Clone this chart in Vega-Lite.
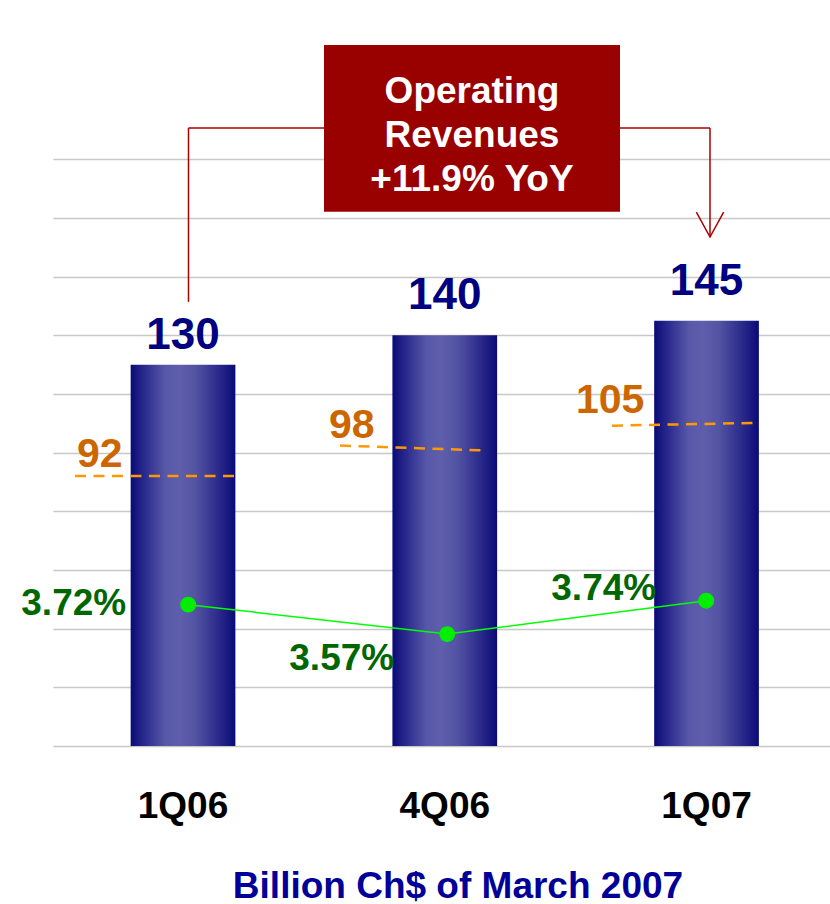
{
  "$schema": "https://vega.github.io/schema/vega-lite/v6.json",
  "width": 777,
  "height": 746,
  "autosize": {"type": "none"},
  "padding": {"left": 53, "top": 0, "right": 0, "bottom": 158},
  "background": "white",
  "config": {"view": {"stroke": null}, "font": "Liberation Sans, Arial, sans-serif"},
  "datasets": {
    "quarters": [
      {"quarter": "1Q06", "revenue": 130, "margin": 3.72, "margin_text": "3.72%"},
      {"quarter": "4Q06", "revenue": 140, "margin": 3.57, "margin_text": "3.57%"},
      {"quarter": "1Q07", "revenue": 145, "margin": 3.74, "margin_text": "3.74%"}
    ],
    "dashes": [
      {"quarter": "1Q06", "label": "92", "slot_from": -0.4126, "slot_to": 0.1987, "level_from": 92.0, "level_to": 92.0},
      {"quarter": "4Q06", "label": "98", "slot_from": 0.5998, "slot_to": 1.1384, "level_from": 102.4, "level_to": 100.8},
      {"quarter": "1Q07", "label": "105", "slot_from": 1.6389, "slot_to": 2.1776, "level_from": 109.2, "level_to": 110.1}
    ],
    "connectors": [
      {"slot_from": 0.021, "slot_to": 0.021, "level_from": 210.7, "level_to": 151.4},
      {"slot_from": 0.021, "slot_to": 0.5387, "level_from": 210.7, "level_to": 210.7},
      {"slot_from": 1.6695, "slot_to": 2.0133, "level_from": 210.7, "level_to": 210.7},
      {"slot_from": 2.0133, "slot_to": 2.0133, "level_from": 210.7, "level_to": 173.5}
    ],
    "callout": [
      {"text": "Operating\nRevenues\n+11.9% YoY", "slot_from": 0.5387, "slot_to": 1.6695, "level_from": 182.1, "level_to": 239.0, "slot_text": 1.104, "level_text": 222.9}
    ],
    "arrow": [{"slot": 2.0133, "level": 173.5}]
  },
  "resolve": {"scale": {"x": "independent", "y": "independent"}},
  "layer": [
    {
      "data": {"name": "quarters"},
      "encoding": {
        "x": {
          "field": "quarter", "type": "nominal", "sort": ["1Q06", "4Q06", "1Q07"],
          "scale": {"paddingInner": 0.6, "paddingOuter": 0.2842, "align": 0.522},
          "axis": {
            "title": "Billion Ch$ of March 2007",
            "labelFontSize": 37, "labelFontWeight": "bold", "labelColor": "#000000",
            "labelFont": "Liberation Sans",
            "labelPadding": 71, "labelBaseline": "alphabetic", "labelAngle": 0,
            "ticks": false, "tickSize": 0, "domain": false,
            "titleFont": "Liberation Sans", "titleFontSize": 37, "titleFontWeight": "bold", "titleColor": "#000099",
            "titleX": 404.5, "titleY": 151, "titleBaseline": "alphabetic", "titleAlign": "center"
          }
        },
        "y": {
          "field": "revenue", "type": "quantitative",
          "scale": {"domain": [0, 254.3], "nice": false},
          "axis": {
            "values": [0, 20, 40, 60, 80, 100, 120, 140, 160, 180, 200],
            "labels": false, "ticks": false, "domain": false, "title": null,
            "grid": true, "gridColor": "#c8c8c8", "gridWidth": 1.5
          }
        }
      },
      "layer": [
        {
          "mark": {
            "type": "bar",
            "fill": {
              "gradient": "linear", "x1": 0, "y1": 0, "x2": 1, "y2": 0,
              "stops": [
                {"offset": 0, "color": "#0a0a78"},
                {"offset": 0.15, "color": "#2e2e90"},
                {"offset": 0.33, "color": "#5858a8"},
                {"offset": 0.47, "color": "#5e5eac"},
                {"offset": 0.62, "color": "#5353a3"},
                {"offset": 0.85, "color": "#28288a"},
                {"offset": 1, "color": "#0a0a78"}
              ]
            }
          }
        },
        {
          "transform": [{"filter": "datum.quarter === '1Q06'"}],
          "mark": {"type": "text", "baseline": "alphabetic", "dy": -16, "fontSize": 44, "fontWeight": "bold", "color": "#000080"},
          "encoding": {"text": {"field": "revenue"}}
        },
        {
          "transform": [{"filter": "datum.quarter !== '1Q06'"}],
          "mark": {"type": "text", "baseline": "alphabetic", "dy": -26, "fontSize": 44, "fontWeight": "bold", "color": "#000080"},
          "encoding": {"text": {"field": "revenue"}}
        }
      ]
    },
    {
      "data": {"name": "quarters"},
      "encoding": {
        "x": {
          "field": "quarter", "type": "nominal", "sort": ["1Q06", "4Q06", "1Q07"],
          "scale": {"paddingInner": 0.6, "paddingOuter": 0.2842, "align": 0.522},
          "axis": null
        },
        "y": {
          "field": "margin", "type": "quantitative",
          "scale": {"domain": [3, 6.8], "nice": false, "zero": false},
          "axis": null
        }
      },
      "layer": [
        {"mark": {"type": "line", "color": "#00ff00", "strokeWidth": 1.5}},
        {"mark": {"type": "point", "filled": true, "size": 254, "color": "#00ee00", "opacity": 1}},
        {
          "transform": [{"filter": "datum.quarter === '1Q06'"}],
          "mark": {"type": "text", "align": "right", "baseline": "alphabetic", "dx": -62, "dy": 10, "fontSize": 37, "fontWeight": "bold", "color": "#006600"},
          "encoding": {"text": {"field": "margin_text"}}
        },
        {
          "transform": [{"filter": "datum.quarter === '4Q06'"}],
          "mark": {"type": "text", "align": "right", "baseline": "alphabetic", "dx": -53, "dy": 36, "fontSize": 37, "fontWeight": "bold", "color": "#006600"},
          "encoding": {"text": {"field": "margin_text"}}
        },
        {
          "transform": [{"filter": "datum.quarter === '1Q07'"}],
          "mark": {"type": "text", "align": "right", "baseline": "alphabetic", "dx": -50, "dy": -1, "fontSize": 37, "fontWeight": "bold", "color": "#006600"},
          "encoding": {"text": {"field": "margin_text"}}
        }
      ]
    },
    {
      "layer": [
        {
          "data": {"name": "dashes"},
          "mark": {"type": "rule", "color": "#ff9900", "strokeWidth": 2.5, "strokeDash": [11, 7.5]},
          "encoding": {
            "x": {"field": "slot_from", "type": "quantitative", "scale": {"domain": [-0.49664, 2.47173], "nice": false, "zero": false}, "axis": null},
            "x2": {"field": "slot_to"},
            "y": {"field": "level_from", "type": "quantitative", "scale": {"domain": [0, 254.3], "nice": false}, "axis": null},
            "y2": {"field": "level_to"}
          }
        },
        {
          "data": {"name": "dashes"},
          "transform": [{"filter": "datum.quarter === '1Q06'"}],
          "mark": {"type": "text", "align": "left", "baseline": "alphabetic", "dx": 2, "dy": -9, "fontSize": 41, "fontWeight": "bold", "color": "#cc6600"},
          "encoding": {
            "x": {"field": "slot_from", "type": "quantitative", "scale": {"domain": [-0.49664, 2.47173], "nice": false, "zero": false}, "axis": null},
            "y": {"field": "level_from", "type": "quantitative", "scale": {"domain": [0, 254.3], "nice": false}, "axis": null},
            "text": {"field": "label"}
          }
        },
        {
          "data": {"name": "dashes"},
          "transform": [{"filter": "datum.quarter === '4Q06'"}],
          "mark": {"type": "text", "align": "left", "baseline": "alphabetic", "dx": -11, "dy": -8, "fontSize": 41, "fontWeight": "bold", "color": "#cc6600"},
          "encoding": {
            "x": {"field": "slot_from", "type": "quantitative", "scale": {"domain": [-0.49664, 2.47173], "nice": false, "zero": false}, "axis": null},
            "y": {"field": "level_from", "type": "quantitative", "scale": {"domain": [0, 254.3], "nice": false}, "axis": null},
            "text": {"field": "label"}
          }
        },
        {
          "data": {"name": "dashes"},
          "transform": [{"filter": "datum.quarter === '1Q07'"}],
          "mark": {"type": "text", "align": "left", "baseline": "alphabetic", "dx": -36, "dy": -13, "fontSize": 41, "fontWeight": "bold", "color": "#cc6600"},
          "encoding": {
            "x": {"field": "slot_from", "type": "quantitative", "scale": {"domain": [-0.49664, 2.47173], "nice": false, "zero": false}, "axis": null},
            "y": {"field": "level_from", "type": "quantitative", "scale": {"domain": [0, 254.3], "nice": false}, "axis": null},
            "text": {"field": "label"}
          }
        },
        {
          "data": {"name": "connectors"},
          "mark": {"type": "rule", "color": "#aa0000", "strokeWidth": 1.5},
          "encoding": {
            "x": {"field": "slot_from", "type": "quantitative", "scale": {"domain": [-0.49664, 2.47173], "nice": false, "zero": false}, "axis": null},
            "x2": {"field": "slot_to"},
            "y": {"field": "level_from", "type": "quantitative", "scale": {"domain": [0, 254.3], "nice": false}, "axis": null},
            "y2": {"field": "level_to"}
          }
        },
        {
          "data": {"name": "callout"},
          "mark": {"type": "rect", "fill": "#990000"},
          "encoding": {
            "x": {"field": "slot_from", "type": "quantitative", "scale": {"domain": [-0.49664, 2.47173], "nice": false, "zero": false}, "axis": null},
            "x2": {"field": "slot_to"},
            "y": {"field": "level_from", "type": "quantitative", "scale": {"domain": [0, 254.3], "nice": false}, "axis": null},
            "y2": {"field": "level_to"}
          }
        },
        {
          "data": {"name": "callout"},
          "mark": {"type": "text", "lineBreak": "\n", "lineHeight": 44, "align": "center", "baseline": "middle", "fontSize": 37, "fontWeight": "bold", "color": "#ffffff"},
          "encoding": {
            "x": {"field": "slot_text", "type": "quantitative", "scale": {"domain": [-0.49664, 2.47173], "nice": false, "zero": false}, "axis": null},
            "y": {"field": "level_text", "type": "quantitative", "scale": {"domain": [0, 254.3], "nice": false}, "axis": null},
            "text": {"field": "text"}
          }
        },
        {
          "data": {"name": "arrow"},
          "mark": {"type": "point", "shape": "M-1,-1.83L0,0L1,-1.83", "size": 745, "filled": false, "stroke": "#aa0000", "strokeWidth": 1.5, "opacity": 1},
          "encoding": {
            "x": {"field": "slot", "type": "quantitative", "scale": {"domain": [-0.49664, 2.47173], "nice": false, "zero": false}, "axis": null},
            "y": {"field": "level", "type": "quantitative", "scale": {"domain": [0, 254.3], "nice": false}, "axis": null}
          }
        }
      ]
    }
  ]
}
